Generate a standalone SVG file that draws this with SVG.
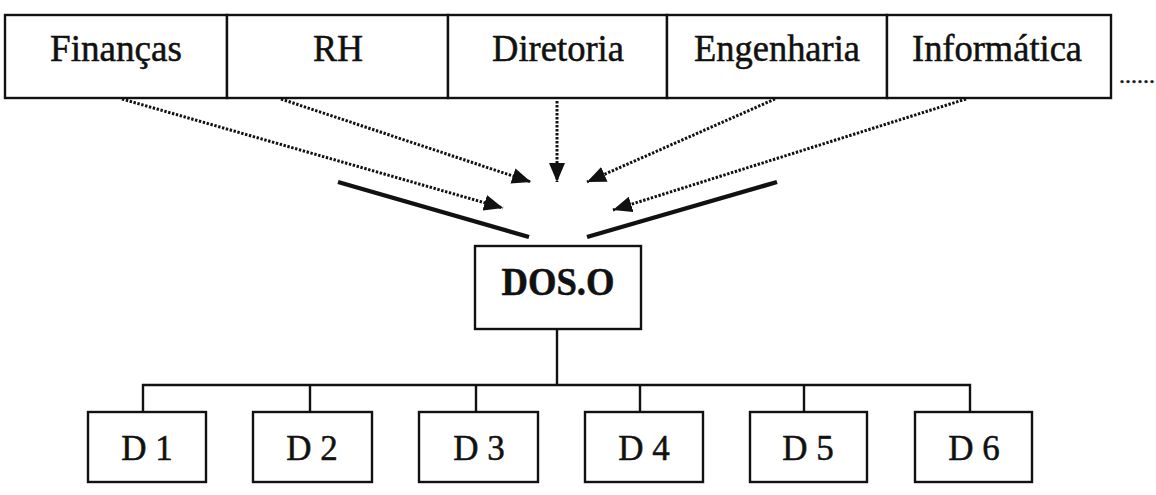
<svg xmlns="http://www.w3.org/2000/svg" width="1156" height="495" viewBox="0 0 1156 495">
<style>
.box{fill:#fff;stroke:#111;stroke-width:2.4}
.t{font-family:"Liberation Serif","Times New Roman",serif;fill:#111;stroke:#111;stroke-width:0.5;text-anchor:middle}
.top{font-size:37px}
.d{font-size:35px}
.dos{font-size:39px;font-weight:bold}
.dot{fill:none;stroke:#111;stroke-width:3;stroke-dasharray:2.4 1.6}
.thick{fill:none;stroke:#111;stroke-width:4.4}
.tree{fill:none;stroke:#111;stroke-width:2.4}
</style>
<defs>
<marker id="ah" markerUnits="userSpaceOnUse" markerWidth="20" markerHeight="16" refX="19" refY="8" orient="auto">
<path d="M0,0 L19,8 L0,16 z" fill="#111"/>
</marker>
</defs>
<g id="financas"><rect class="box" x="5" y="15" width="222" height="83"/><text class="t top" x="116" y="61" textLength="132" lengthAdjust="spacingAndGlyphs">Finanças</text></g>
<g id="rh"><rect class="box" x="227" y="15" width="221" height="83"/><text class="t top" x="338" y="61" textLength="50" lengthAdjust="spacingAndGlyphs">RH</text></g>
<g id="diretoria"><rect class="box" x="448" y="15" width="219" height="83"/><text class="t top" x="558" y="61" textLength="132" lengthAdjust="spacingAndGlyphs">Diretoria</text></g>
<g id="engenharia"><rect class="box" x="667" y="15" width="220" height="83"/><text class="t top" x="777" y="61" textLength="166" lengthAdjust="spacingAndGlyphs">Engenharia</text></g>
<g id="informatica"><rect class="box" x="887" y="15" width="224" height="83"/><text class="t top" x="997" y="61" textLength="170" lengthAdjust="spacingAndGlyphs">Informática</text></g>
<g id="more"><text class="t" x="1137" y="83" style="font-size:24px">......</text></g>
<g id="doso"><rect class="box" x="475" y="246" width="166" height="83"/><text class="t dos" x="558" y="295" textLength="113" lengthAdjust="spacingAndGlyphs">DOS.O</text></g>
<g id="d1"><rect class="box" x="88" y="412" width="118" height="70"/><text class="t d" x="147" y="460">D 1</text></g>
<g id="d2"><rect class="box" x="253" y="412" width="119" height="70"/><text class="t d" x="312" y="460">D 2</text></g>
<g id="d3"><rect class="box" x="419" y="412" width="119" height="70"/><text class="t d" x="479" y="460">D 3</text></g>
<g id="d4"><rect class="box" x="585" y="412" width="118" height="70"/><text class="t d" x="644" y="460">D 4</text></g>
<g id="d5"><rect class="box" x="750" y="412" width="117" height="70"/><text class="t d" x="808" y="460">D 5</text></g>
<g id="d6"><rect class="box" x="915" y="412" width="117" height="70"/><text class="t d" x="974" y="460">D 6</text></g>
<g id="connectors">
<line class="dot" x1="122" y1="99" x2="503" y2="208" marker-end="url(#ah)"/>
<line class="dot" x1="281" y1="99" x2="531" y2="182" marker-end="url(#ah)"/>
<line class="dot" x1="557" y1="101" x2="557" y2="182" marker-end="url(#ah)"/>
<line class="dot" x1="775" y1="99" x2="587" y2="182" marker-end="url(#ah)"/>
<line class="dot" x1="966" y1="99" x2="613" y2="210" marker-end="url(#ah)"/>
<line class="thick" x1="338" y1="182" x2="529" y2="237"/>
<line class="thick" x1="587" y1="237" x2="777" y2="182"/>
<path class="tree" d="M557,329 V385 M143,412 V385 H970 V412 M310,385 V412 M476,385 V412 M640,385 V412 M804,385 V412"/>
</g>
</svg>
